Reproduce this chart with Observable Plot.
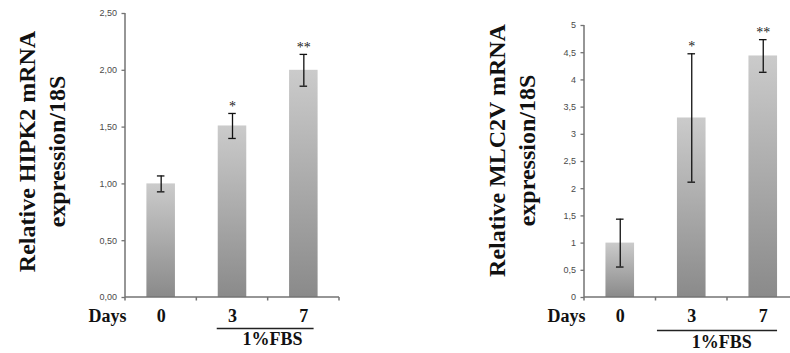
<!DOCTYPE html>
<html>
<head>
<meta charset="utf-8">
<script src="https://cdn.jsdelivr.net/npm/d3@7"></script>
<script src="https://cdn.jsdelivr.net/npm/@observablehq/plot@0.6"></script>
<style>
  html, body { margin: 0; padding: 0; background: #fff; }
  #wrap { position: relative; width: 790px; height: 353px; overflow: hidden; background: #fff; }
  #left { position: absolute; top: 0; left: 0; width: 395px; height: 353px; }
  #right { position: absolute; top: 0; left: 395px; width: 420px; height: 353px; }
  #wrap svg { overflow: visible; max-width: none !important; }
</style>
</head>
<body>
<div id="wrap"><div id="left"></div><div id="right"></div></div>
<script>
// ---- data ----
const days = ["0", "3", "7"];
const groupLabel = "1%FBS";
const daysLabel = "Days";
const significance = ["", "*", "**"];

const hipk2Values = [1.00, 1.51, 2.00];
const hipk2Errors = [0.07, 0.11, 0.14];
const hipk2Ticks = [0, 0.5, 1, 1.5, 2, 2.5];
const hipk2TickLabels = ["0,00", "0,50", "1,00", "1,50", "2,00", "2,50"];
const hipk2Title = "Relative HIPK2 mRNA\nexpression/18S";

const mlc2vValues = [1.00, 3.30, 4.44];
const mlc2vErrors = [0.44, 1.18, 0.30];
const mlc2vTicks = [0, 0.5, 1, 1.5, 2, 2.5, 3, 3.5, 4, 4.5, 5];
const mlc2vTickLabels = ["0", "0,5", "1", "1,5", "2", "2,5", "3", "3,5", "4", "4,5", "5"];
const mlc2vTitle = "Relative MLC2V mRNA\nexpression/18S";

const serif = "Liberation Serif";
const sans = "Liberation Sans";

function makeChart(cfg) {
  const data = days.map((d, i) => ({
    day: d,
    value: cfg.values[i],
    lo: cfg.values[i] - cfg.errors[i],
    hi: cfg.values[i] + cfg.errors[i],
    sig: significance[i]
  }));
  const n = days.length;
  const paddingInner = 0.6;
  const groupLine = [{a: days[1], b: days[n - 1], y: 0}];
  const gid = "grad-" + cfg.id;
  const axisColor = "#737373";

  const defs = () => {
    const g = d3.create("svg:defs");
    const lg = g.append("linearGradient").attr("id", gid)
      .attr("x1", 0).attr("y1", 0).attr("x2", 0).attr("y2", 1);
    lg.append("stop").attr("offset", "0%").attr("stop-color", "#cbcbcb");
    lg.append("stop").attr("offset", "100%").attr("stop-color", "#8a8a8a");
    return g.node();
  };

  // axis lines and category-boundary ticks, positioned through the plot's own scales
  const axisLines = (index, scales) => {
    const {x, y} = scales;
    const bw = typeof x.bandwidth === "function" ? x.bandwidth() : 0;
    const step = bw / (1 - paddingInner);
    const centers = days.map(d => x(d) + bw / 2);
    const x0 = centers[0] - step / 2;
    const xEnd = centers[n - 1] + step / 2;
    const y0 = y(cfg.domain[0]);
    const yTop = y(cfg.domain[1]);
    const g = d3.create("svg:g").attr("stroke", axisColor).attr("fill", "none")
      .attr("stroke-width", 1.5);
    g.append("line").attr("x1", x0).attr("x2", x0).attr("y1", y0).attr("y2", yTop);
    g.append("line").attr("x1", x0).attr("x2", xEnd).attr("y1", y0).attr("y2", y0);
    const bounds = centers.map(c => c - step / 2).concat([xEnd]);
    bounds.forEach(b => g.append("line").attr("x1", b).attr("x2", b).attr("y1", y0).attr("y2", y0 + 3.5));
    return g.node();
  };

  return Plot.plot({
    width: cfg.width,
    height: 353,
    marginLeft: cfg.marginLeft,
    marginRight: cfg.marginRight,
    marginTop: cfg.marginTop,
    marginBottom: 56,
    style: {background: "transparent", overflow: "visible", maxWidth: "none"},
    x: {domain: days, paddingInner, paddingOuter: paddingInner / 2, round: false, label: null},
    y: {domain: cfg.domain, label: null},
    marks: [
      defs,
      Plot.barY(data, {x: "day", y: "value", fill: `url(#${gid})`}),
      axisLines,
      Plot.axisY({
        ticks: cfg.ticks,
        tickFormat: (d) => cfg.tickLabels[cfg.ticks.indexOf(d)],
        tickSize: 3.5, tickPadding: 5, stroke: axisColor, strokeWidth: 1.3,
        fontSize: 9, fontFamily: sans, fill: "#4a4a4a", label: null
      }),
      Plot.axisX({
        tickSize: 0, tickPadding: 12, fontSize: 18, fontWeight: "bold",
        fontFamily: serif, fill: "#111", label: null
      }),
      // error bars
      Plot.ruleX(data, {x: "day", y1: "lo", y2: "hi", stroke: "#111", strokeWidth: 1.3}),
      Plot.tickY(data, {x: "day", y: "hi", insetLeft: 10.5, insetRight: 10.5, stroke: "#111", strokeWidth: 1.3}),
      Plot.tickY(data, {x: "day", y: "lo", insetLeft: 10.5, insetRight: 10.5, stroke: "#111", strokeWidth: 1.3}),
      // significance stars
      Plot.text(data, {x: "day", y: "hi", text: "sig", dy: -7, lineAnchor: "middle", fontSize: 14, fontFamily: serif, fill: "#222"}),
      // Days label
      Plot.text([daysLabel], {frameAnchor: "bottom-left", textAnchor: "end", lineAnchor: "top", dx: 1, dy: 12, fontSize: 18, fontWeight: "bold", fontFamily: serif, fill: "#111"}),
      // group underline + label
      Plot.ruleY(groupLine, {x1: "a", x2: "b", y: "y", insetLeft: cfg.lineInsetLeft, insetRight: cfg.lineInsetRight, dy: cfg.lineDy, stroke: "#222", strokeWidth: 1.3}),
      Plot.text([groupLabel], {frameAnchor: "bottom", textAnchor: "middle", lineAnchor: "top", dx: cfg.groupDx, dy: cfg.groupDy, fontSize: 18, fontWeight: "bold", fontFamily: serif, fill: "#111"}),
      // y title
      Plot.text([cfg.title], {frameAnchor: "left", textAnchor: "middle", lineAnchor: "middle", rotate: -90, lineHeight: 1.25, dx: cfg.titleDx, dy: cfg.titleDy, fontSize: 24, fontWeight: "bold", fontFamily: serif, fill: "#111"})
    ]
  });
}

const left = makeChart({
  id: "l", width: 395, marginLeft: 125, marginRight: 56, marginTop: 13,
  domain: [0, 2.5], values: hipk2Values, errors: hipk2Errors,
  ticks: hipk2Ticks, tickLabels: hipk2TickLabels, title: hipk2Title,
  titleDx: -84.7, titleDy: -4,
  lineInsetLeft: -1, lineInsetRight: 4, lineDy: 31,
  groupDx: 40, groupDy: 35
});
const right = makeChart({
  id: "r", width: 420, marginLeft: 189, marginRight: 16.5, marginTop: 25,
  domain: [0, 5], values: mlc2vValues, errors: mlc2vErrors,
  ticks: mlc2vTicks, tickLabels: mlc2vTickLabels, title: mlc2vTitle,
  titleDx: -73.7, titleDy: -11,
  lineInsetLeft: -20, lineInsetRight: 0, lineDy: 33,
  groupDx: 30, groupDy: 38
});
document.getElementById("left").appendChild(left);
document.getElementById("right").appendChild(right);
</script>
</body>
</html>
